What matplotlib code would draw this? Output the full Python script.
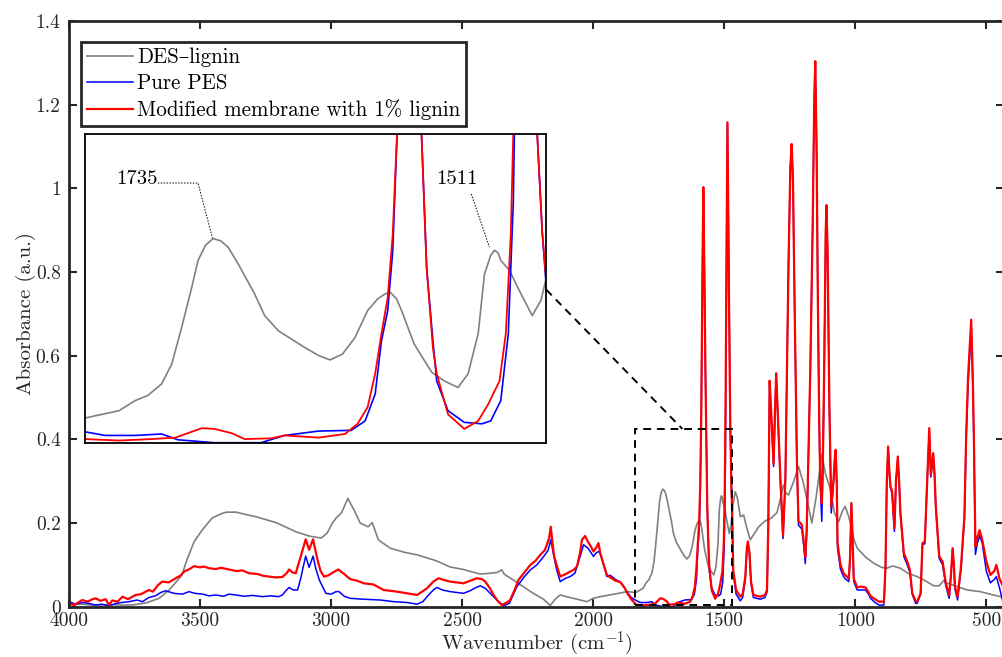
import matplotlib
matplotlib.use('Agg')
import matplotlib.pyplot as plt
from matplotlib.patches import Rectangle

plt.rcParams['font.family'] = ['cmr10', 'DejaVu Serif']
plt.rcParams['mathtext.fontset'] = 'cm'
plt.rcParams['axes.unicode_minus'] = False

# ---------------- data ----------------
lignin_wn = [4000, 3950, 3900, 3850, 3800, 3760, 3706, 3656, 3618, 3590, 3569, 3550, 3523, 3492, 3454,
             3420, 3400, 3362, 3330, 3286, 3210, 3134, 3084, 3038, 3015, 2995, 2981, 2960, 2936, 2910,
             2889, 2859, 2843, 2820, 2775, 2720, 2672, 2600, 2546, 2496, 2431, 2393, 2365, 2355, 2349,
             2340, 2291, 2229, 2190, 2164, 2145, 2126, 2090, 2062, 2024, 2000, 1973, 1920, 1871, 1837,
             1810, 1797, 1787, 1776, 1768, 1760, 1752, 1747, 1741, 1735, 1729, 1723, 1715, 1702, 1694, 1683, 1673,
             1662, 1651, 1642, 1632, 1622, 1612, 1604, 1598, 1594, 1589, 1585, 1575, 1561, 1551, 1540, 1532, 1524,
             1519, 1514, 1511, 1508, 1506, 1499, 1492, 1481, 1474, 1468, 1458, 1450, 1439, 1426, 1415, 1401, 1385,
             1369, 1344, 1320, 1299, 1285, 1274, 1265, 1255, 1235, 1217, 1200, 1179, 1166, 1150, 1128,
             1115, 1096, 1080, 1064, 1050, 1039, 1025, 1019, 1005, 993, 960, 930, 900, 879, 866,
             854, 840, 828, 800, 764, 739, 701, 680, 661, 650, 610, 574, 523, 474, 446, 431]
lignin_abs = [0.005, 0.006, 0.003, 0.005, 0.004, 0.004, 0.009, 0.020, 0.040, 0.060, 0.076, 0.112, 0.155, 0.183, 0.212,
              0.222, 0.226, 0.226, 0.221, 0.215, 0.201, 0.179, 0.169, 0.164, 0.176, 0.200, 0.212, 0.225, 0.259, 0.228,
              0.200, 0.191, 0.201, 0.160, 0.140, 0.130, 0.124, 0.110, 0.095, 0.089, 0.078, 0.080, 0.082, 0.086, 0.088,
              0.078, 0.058, 0.032, 0.018, 0.003, 0.018, 0.028, 0.022, 0.018, 0.012, 0.020, 0.024, 0.030, 0.036, 0.034,
              0.044, 0.058, 0.065, 0.081, 0.108, 0.159, 0.214, 0.251, 0.272, 0.281, 0.278, 0.269, 0.246, 0.205, 0.175, 0.154, 0.143,
              0.131, 0.120, 0.114, 0.122, 0.145, 0.182, 0.198, 0.205, 0.207, 0.198, 0.182, 0.136, 0.097, 0.085, 0.076, 0.095, 0.150,
              0.232, 0.258, 0.265, 0.261, 0.251, 0.237, 0.212, 0.175, 0.196, 0.240, 0.275, 0.260, 0.215, 0.219, 0.190, 0.160, 0.175,
              0.191, 0.205, 0.212, 0.225, 0.260, 0.291, 0.272, 0.267, 0.300, 0.335, 0.300, 0.240, 0.200, 0.260, 0.364,
              0.320, 0.282, 0.225, 0.203, 0.228, 0.240, 0.215, 0.200, 0.160, 0.140, 0.118, 0.104, 0.094, 0.092, 0.096,
              0.097, 0.094, 0.092, 0.080, 0.072, 0.064, 0.050, 0.050, 0.064, 0.056, 0.048, 0.040, 0.036, 0.028, 0.024, 0.023]

pes_wn = [4000, 3975, 3950, 3924, 3900, 3875, 3847, 3820, 3800, 3771, 3740, 3720, 3695, 3670, 3650,
          3631, 3600, 3567, 3542, 3520, 3490, 3466, 3440, 3410, 3390, 3364, 3330, 3300, 3262, 3230,
          3200, 3186, 3170, 3160, 3145, 3128, 3115, 3109, 3097, 3084, 3069, 3058, 3045, 3030, 3020,
          3000, 2981, 2970, 2950, 2927, 2880, 2813, 2760, 2710, 2672, 2650, 2634, 2610, 2597, 2575,
          2546, 2520, 2495, 2470, 2450, 2431, 2412, 2390, 2368, 2342, 2320, 2291, 2265, 2240, 2215,
          2189, 2172, 2162, 2150, 2140, 2126, 2105, 2088, 2070, 2050, 2037, 2020, 1999, 1990, 1980,
          1973, 1960, 1948, 1935, 1915, 1897, 1880, 1871, 1855, 1837, 1821, 1797, 1776, 1763, 1734,
          1697, 1678, 1651, 1625, 1614, 1606, 1601, 1596, 1592, 1588, 1584, 1580, 1576, 1572, 1569,
          1565, 1560, 1557, 1548, 1535, 1521, 1514, 1506, 1500, 1496, 1491, 1488, 1485, 1482, 1477,
          1473, 1470, 1466, 1455, 1439, 1430, 1420, 1414, 1410, 1404, 1398, 1389, 1363, 1345, 1337,
          1332, 1327, 1320, 1312, 1306, 1302, 1295, 1286, 1276, 1267, 1260, 1255, 1248, 1243, 1238,
          1232, 1223, 1217, 1210, 1204, 1196, 1191, 1186, 1182, 1172, 1163, 1157, 1153, 1148, 1143,
          1138, 1134, 1128, 1124, 1119, 1113, 1110, 1106, 1099, 1092, 1083, 1078, 1075, 1071, 1068,
          1057, 1045, 1039, 1025, 1020, 1015, 1010, 1006, 993, 980, 961, 950, 942, 925, 910,
          897, 891, 885, 880, 875, 870, 866, 860, 851, 845, 838, 833, 828, 815, 802,
          792, 783, 770, 764, 751, 744, 735, 726, 718, 712, 703, 698, 693, 680, 667,
          655, 642, 635, 629, 624, 620, 610, 597, 584, 577, 570, 558, 552, 548, 542,
          535, 526, 516, 500, 485, 470, 462, 450, 436, 431]
pes_abs = [0.012, 0.006, 0.010, 0.008, 0.004, 0.006, 0.002, 0.008, 0.010, 0.012, 0.016, 0.012, 0.022, 0.026, 0.034,
           0.038, 0.032, 0.030, 0.036, 0.032, 0.030, 0.026, 0.028, 0.025, 0.030, 0.028, 0.025, 0.027, 0.024, 0.026,
           0.024, 0.028, 0.040, 0.046, 0.040, 0.040, 0.070, 0.088, 0.121, 0.094, 0.121, 0.090, 0.064, 0.045, 0.032,
           0.030, 0.036, 0.036, 0.025, 0.020, 0.018, 0.016, 0.012, 0.010, 0.006, 0.012, 0.024, 0.040, 0.046, 0.040,
           0.036, 0.034, 0.032, 0.038, 0.045, 0.050, 0.044, 0.030, 0.016, 0.002, 0.008, 0.048, 0.070, 0.088, 0.100,
           0.120, 0.135, 0.160, 0.120, 0.090, 0.060, 0.068, 0.072, 0.080, 0.120, 0.148, 0.140, 0.120, 0.128, 0.132,
           0.127, 0.100, 0.072, 0.075, 0.065, 0.059, 0.045, 0.035, 0.022, 0.015, 0.010, 0.010, 0.012, 0.004, 0.000,
           0.000, 0.010, 0.016, 0.017, 0.030, 0.067, 0.140, 0.182, 0.264, 0.450, 0.750, 1.000, 0.800, 0.560, 0.420,
           0.240, 0.140, 0.085, 0.044, 0.028, 0.026, 0.030, 0.058, 0.150, 0.333, 0.900, 1.155, 0.950, 0.733, 0.425,
           0.290, 0.220, 0.080, 0.030, 0.014, 0.022, 0.065, 0.135, 0.152, 0.125, 0.055, 0.022, 0.018, 0.022, 0.035,
           0.200, 0.535, 0.445, 0.335, 0.475, 0.555, 0.445, 0.300, 0.163, 0.300, 0.600, 0.820, 1.050, 1.103, 1.020,
           0.730, 0.345, 0.195, 0.190, 0.185, 0.140, 0.103, 0.170, 0.275, 0.560, 0.900, 1.200, 1.300, 1.100, 0.730,
           0.440, 0.290, 0.204, 0.320, 0.555, 0.900, 0.955, 0.850, 0.470, 0.224, 0.300, 0.355, 0.370, 0.290, 0.140,
           0.090, 0.072, 0.067, 0.060, 0.115, 0.245, 0.145, 0.060, 0.040, 0.040, 0.040, 0.030, 0.020, 0.010, 0.004,
           0.004, 0.004, 0.090, 0.300, 0.380, 0.320, 0.285, 0.270, 0.180, 0.300, 0.355, 0.300, 0.220, 0.120, 0.100,
           0.082, 0.030, 0.008, 0.008, 0.030, 0.150, 0.150, 0.300, 0.420, 0.310, 0.362, 0.315, 0.235, 0.115, 0.100,
           0.050, 0.020, 0.075, 0.135, 0.095, 0.042, 0.016, 0.090, 0.210, 0.405, 0.530, 0.660, 0.530, 0.400, 0.125,
           0.150, 0.170, 0.152, 0.084, 0.057, 0.065, 0.072, 0.045, 0.008, 0.005]

mod_wn = [4000, 3980, 3960, 3949, 3930, 3910, 3898, 3880, 3860, 3847, 3835, 3815, 3796, 3775, 3746,
          3725, 3695, 3680, 3660, 3644, 3620, 3593, 3575, 3561, 3540, 3523, 3500, 3485, 3466, 3440,
          3420, 3389, 3360, 3340, 3313, 3280, 3260, 3237, 3210, 3186, 3170, 3160, 3148, 3135, 3116,
          3097, 3084, 3069, 3052, 3040, 3027, 3010, 2995, 2973, 2950, 2927, 2900, 2876, 2838, 2800,
          2749, 2710, 2672, 2634, 2610, 2590, 2570, 2546, 2520, 2495, 2470, 2444, 2425, 2412, 2395,
          2380, 2365, 2349, 2330, 2317, 2300, 2285, 2260, 2240, 2220, 2202, 2185, 2177, 2168, 2162,
          2155, 2149, 2135, 2126, 2105, 2088, 2075, 2062, 2050, 2043, 2031, 2020, 2010, 1999, 1990,
          1980, 1973, 1960, 1948, 1935, 1915, 1897, 1880, 1871, 1855, 1837, 1810, 1784, 1765, 1744,
          1734, 1720, 1710, 1689, 1678, 1651, 1630, 1620, 1612, 1606, 1601, 1596, 1592, 1588, 1584,
          1580, 1576, 1572, 1569, 1565, 1560, 1557, 1548, 1535, 1524, 1516, 1507, 1502, 1498, 1495,
          1491, 1488, 1485, 1482, 1477, 1473, 1470, 1466, 1455, 1439, 1430, 1420, 1414, 1410, 1404,
          1398, 1389, 1363, 1345, 1337, 1332, 1327, 1320, 1312, 1306, 1302, 1295, 1286, 1276, 1267,
          1260, 1255, 1248, 1243, 1238, 1232, 1223, 1217, 1210, 1204, 1196, 1191, 1186, 1182, 1172,
          1163, 1157, 1153, 1148, 1143, 1138, 1134, 1128, 1124, 1119, 1113, 1110, 1106, 1099, 1092,
          1083, 1078, 1075, 1071, 1068, 1057, 1045, 1039, 1025, 1020, 1015, 1010, 1006, 993, 980,
          961, 950, 942, 925, 910, 897, 891, 885, 880, 875, 870, 866, 860, 851, 845,
          838, 833, 828, 815, 802, 792, 783, 770, 764, 751, 744, 735, 726, 718, 712,
          703, 698, 693, 680, 667, 655, 642, 635, 629, 624, 620, 610, 597, 584, 577,
          570, 558, 552, 548, 542, 535, 526, 516, 500, 485, 470, 462, 450, 436, 431]
mod_abs = [0.008, 0.004, 0.012, 0.016, 0.012, 0.018, 0.020, 0.014, 0.018, 0.004, 0.015, 0.012, 0.024, 0.018, 0.028,
           0.030, 0.040, 0.036, 0.052, 0.060, 0.058, 0.068, 0.074, 0.084, 0.090, 0.097, 0.094, 0.096, 0.092, 0.090,
           0.093, 0.089, 0.085, 0.087, 0.080, 0.078, 0.074, 0.072, 0.070, 0.071, 0.080, 0.089, 0.082, 0.080, 0.120,
           0.161, 0.136, 0.161, 0.112, 0.085, 0.072, 0.075, 0.081, 0.089, 0.078, 0.066, 0.062, 0.056, 0.053, 0.040,
           0.036, 0.032, 0.028, 0.044, 0.060, 0.068, 0.064, 0.060, 0.058, 0.056, 0.062, 0.068, 0.066, 0.060, 0.045,
           0.028, 0.014, 0.004, 0.010, 0.016, 0.040, 0.064, 0.084, 0.100, 0.110, 0.124, 0.135, 0.148, 0.165, 0.191,
           0.150, 0.120, 0.090, 0.072, 0.078, 0.084, 0.088, 0.096, 0.130, 0.160, 0.169, 0.155, 0.145, 0.132, 0.140,
           0.152, 0.127, 0.100, 0.076, 0.070, 0.062, 0.059, 0.045, 0.033, 0.018, 0.005, 0.003, 0.005, 0.007, 0.020,
           0.019, 0.013, 0.005, 0.006, 0.010, 0.007, 0.012, 0.026, 0.049, 0.095, 0.150, 0.200, 0.287, 0.450, 0.750,
           1.003, 0.800, 0.560, 0.420, 0.240, 0.130, 0.095, 0.039, 0.019, 0.030, 0.053, 0.085, 0.150, 0.287, 0.500,
           0.900, 1.158, 0.950, 0.733, 0.425, 0.290, 0.228, 0.088, 0.040, 0.024, 0.030, 0.070, 0.140, 0.156, 0.130,
           0.060, 0.028, 0.024, 0.028, 0.040, 0.200, 0.540, 0.450, 0.341, 0.480, 0.558, 0.450, 0.306, 0.170, 0.306,
           0.600, 0.820, 1.050, 1.106, 1.020, 0.733, 0.349, 0.204, 0.200, 0.195, 0.150, 0.119, 0.180, 0.281, 0.563,
           0.904, 1.200, 1.304, 1.100, 0.733, 0.450, 0.306, 0.247, 0.350, 0.563, 0.900, 0.960, 0.850, 0.478, 0.238,
           0.306, 0.360, 0.375, 0.300, 0.153, 0.101, 0.080, 0.076, 0.067, 0.120, 0.248, 0.150, 0.067, 0.046, 0.048,
           0.046, 0.035, 0.025, 0.018, 0.012, 0.012, 0.012, 0.096, 0.300, 0.383, 0.320, 0.287, 0.277, 0.188, 0.300,
           0.359, 0.300, 0.223, 0.128, 0.108, 0.088, 0.032, 0.014, 0.012, 0.032, 0.152, 0.156, 0.300, 0.427, 0.315,
           0.367, 0.320, 0.239, 0.120, 0.108, 0.056, 0.028, 0.080, 0.140, 0.100, 0.048, 0.024, 0.096, 0.215, 0.415,
           0.550, 0.686, 0.550, 0.415, 0.144, 0.165, 0.183, 0.160, 0.108, 0.076, 0.085, 0.100, 0.067, 0.048, 0.045]

series_labels = ['DES\u2013lignin', 'Pure PES', 'Modified membrane with 1% lignin']
x_ticks = [4000, 3500, 3000, 2500, 2000, 1500, 1000, 500]
y_ticks = [0, 0.2, 0.4, 0.6, 0.8, 1.0, 1.2, 1.4]
y_tick_labels = ['0', '0.2', '0.4', '0.6', '0.8', '1', '1.2', '1.4']
peak_labels = ['1735', '1511']

# ---------------- figure ----------------
W, H = 1003, 657
fig = plt.figure(figsize=(W / 100, H / 100), dpi=100)
ax = fig.add_axes([69 / W, 1 - 606.7 / H, (1004.5 - 69) / W, (606.7 - 21) / H])

c_gray = (0.5, 0.5, 0.5)
c_blue = (0, 0, 1)
c_red = (1, 0, 0)
ax.plot(lignin_wn, lignin_abs, color=c_gray, lw=1.2, label=series_labels[0])
ax.plot(pes_wn, pes_abs, color=c_blue, lw=1.1, label=series_labels[1])
ax.plot(mod_wn, mod_abs, color=c_red, lw=1.6, label=series_labels[2])

ax.set_xlim(4000, 431)
ax.set_ylim(0, 1.4)
ax.set_xticks(x_ticks)
ax.set_xticklabels([str(t) for t in x_ticks])
ax.set_yticks(y_ticks)
ax.set_yticklabels(y_tick_labels)
dark = '#262626'
ax.tick_params(direction='in', length=6, width=1.5, top=True, right=True,
               labelsize=14, colors=dark)
ax.tick_params(axis='x', pad=4)
ax.tick_params(axis='y', pad=6)
for s in ax.spines.values():
    s.set_linewidth(2.0)
    s.set_color(dark)
ax.set_xlabel('Wavenumber (cm$^{-1}$)', fontsize=15, color=dark, labelpad=-0.5)
ax.set_ylabel('Absorbance (a.u.)', fontsize=15, color=dark, labelpad=0)

leg = ax.legend(loc='upper left', bbox_to_anchor=(81 / W, 1 - 42 / H),
                bbox_transform=fig.transFigure, fontsize=15.1, frameon=True,
                fancybox=False, borderaxespad=0, handlelength=2.2, handletextpad=0.2,
                labelspacing=0.3, borderpad=0.28)
leg.get_frame().set_edgecolor(dark)
leg.get_frame().set_linewidth(2.0)
leg.get_frame().set_alpha(1)

# zoom rectangle and connector
rect_x0, rect_x1, rect_y0, rect_y1 = 1840, 1472, 0.003, 0.425
ax.add_patch(Rectangle((rect_x0, rect_y0), rect_x1 - rect_x0, rect_y1 - rect_y0,
                       fill=False, ls=(0, (4, 3)), lw=1.4, color='k', zorder=5))
ax.plot([2179, 1660], [0.7576, 0.425], ls=(0, (4, 3)), lw=1.4, color='k', zorder=5)

# inset
axin = fig.add_axes([85 / W, 1 - 442.7 / H, 461 / W, 308.7 / H])
axin.plot(lignin_wn, lignin_abs, color=c_gray, lw=1.2)
axin.plot(pes_wn, pes_abs, color=c_blue, lw=1.2)
axin.plot(mod_wn, mod_abs, color=c_red, lw=1.3)
axin.set_xlim(1837, 1470)
axin.set_ylim(0, 0.425)
axin.set_xticks([])
axin.set_yticks([])
for s in axin.spines.values():
    s.set_linewidth(1.3)
    s.set_color('k')

axin.text(1812, 0.363, peak_labels[0], fontsize=15, va='center', ha='left', color='k')
axin.plot([1779, 1747, 1735.5], [0.3575, 0.3575, 0.2814], ls=(0, (1.5, 1.5)), lw=0.7, color='k')
axin.text(1557, 0.363, peak_labels[1], fontsize=15, va='center', ha='left', color='k')
axin.plot([1529.5, 1515], [0.3424, 0.269], ls=(0, (1.5, 1.5)), lw=0.7, color='k')

fig.savefig('out.png', dpi=100)
